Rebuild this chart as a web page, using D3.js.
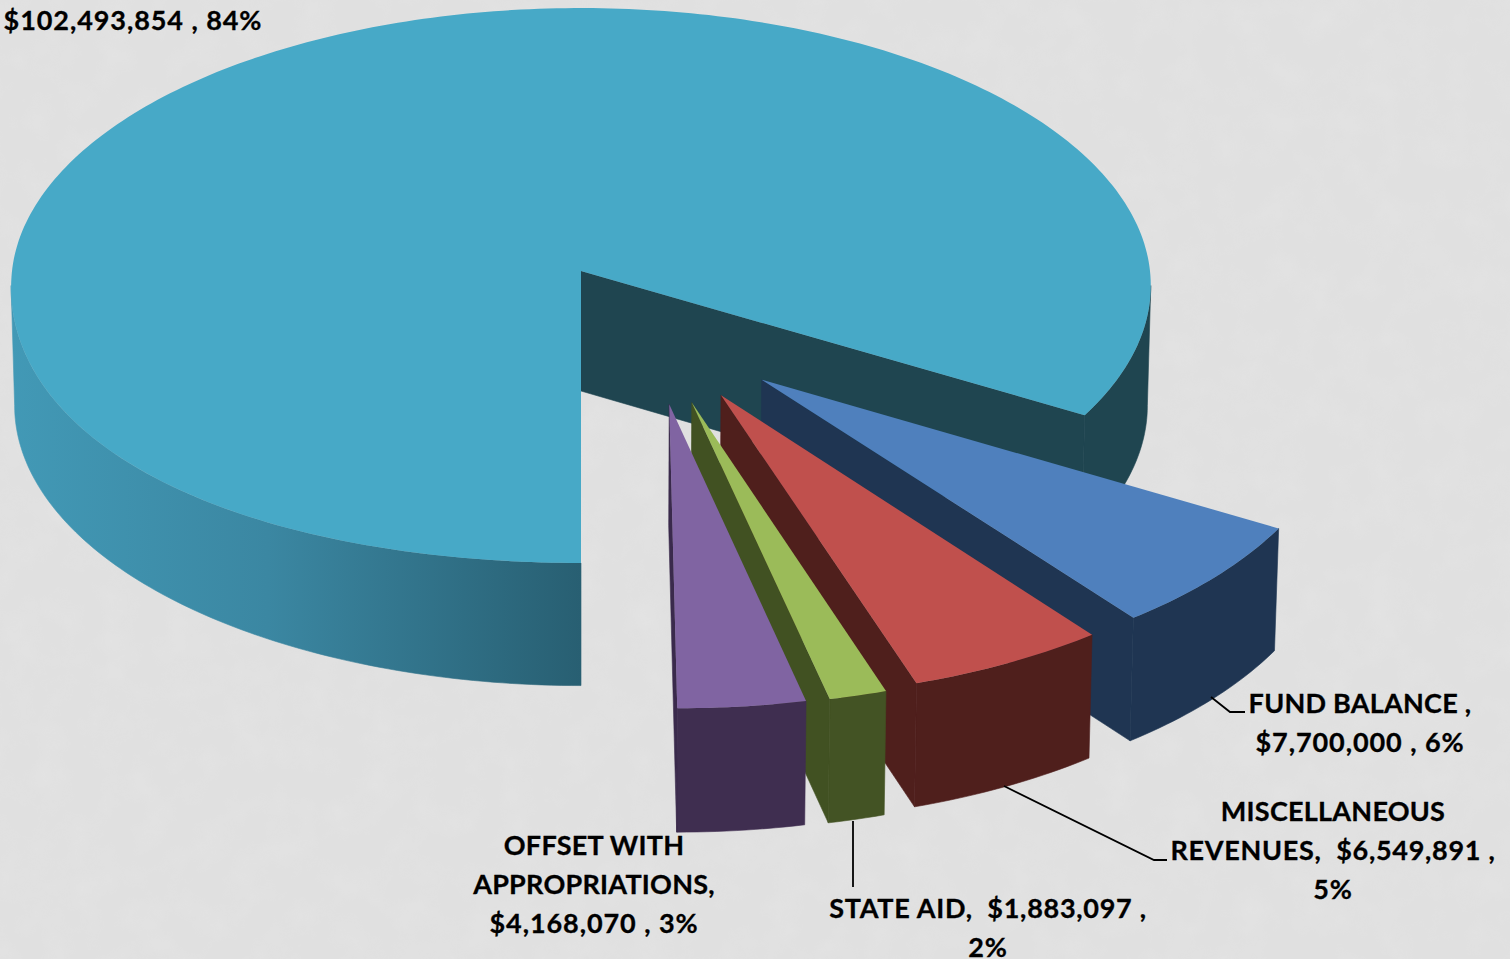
<!DOCTYPE html>
<html>
<head>
    <title>Revenue Pie</title>
    <script src="https://d3js.org/d3.v7.min.js"></script>
    <style>
        html, body { margin: 0; padding: 0; background: #e1e1e1; overflow: hidden; }
        text { font-family: Lato, "Noto Sans", sans-serif; font-weight: 700; fill: #000; stroke: #000; stroke-width: 0.3px; }
    </style>
</head>
<body>
    <div id="chart"></div>
    <script>
    // chart data
    let categories = ["", "FUND BALANCE", "MISCELLANEOUS REVENUES", "STATE AID", "OFFSET WITH APPROPRIATIONS"];
    let values = [102493854, 7700000, 6549891, 1883097, 4168070];
    let percents = ["84%", "6%", "5%", "2%", "3%"];

    let width = 1510,
        height = 959;

    // look of each slice, same order as the data
    let topColors = ["#47a9c7", "#4f80bd", "#c0504d", "#9bbb59", "#8064a2"];
    let wallColors = ["url(#wall0)", "#1f3552", "#4f1f1c", "#435324", "#3f2e50"];
    let faceColors = ["#1f4550", "#1f3552", "#4f1f1c", "#415122", "#3a2a4c"];
    let explodeDist = [0, 0.498, 0.503, 0.503, 0.495];
    let explodeDir = [0, 140.6, 150.8, 157.2, 161.6];
    let sliceRadius = [1, 0.99, 0.99, 0.99, 0.99];
    let tipNudge = [0, -0.005, -0.005, -0.005, -0.005];

    // perspective of the pie plane
    let cx = 581, cy = 271, rx = 569, ry = 276.7, k = 0.0523, depth = 120, shrink = 0.994;
    let frontLeftBulge = 0.018;

    function project(X, Y, low) {
        let d = 1 - k * Y;
        let x = cx + rx * X / d,
            y = cy + ry * Y / d;
        if (low) {
            x = cx + (x - cx) * shrink;
            y = y + depth / Math.pow(d, 0.4);
        }
        return [x, y];
    }

    let svg = d3.select("#chart")
        .append("svg")
        .attr("width", width)
        .attr("height", height);

    let defs = svg.append("defs");

    // faint mottling of the slide background
    let noise = defs.append("filter").attr("id", "noise")
        .attr("x", 0).attr("y", 0).attr("width", "100%").attr("height", "100%");
    noise.append("feTurbulence").attr("type", "fractalNoise").attr("baseFrequency", 0.03).attr("numOctaves", 3).attr("seed", 4);
    noise.append("feColorMatrix").attr("type", "matrix")
        .attr("values", "0 0 0 0 1  0 0 0 0 1  0 0 0 0 1  0.5 0 0 0 -0.2");

    let grad = defs.append("linearGradient").attr("id", "wall0")
        .attr("gradientUnits", "userSpaceOnUse")
        .attr("x1", 10).attr("x2", 582).attr("y1", 0).attr("y2", 0);
    grad.append("stop").attr("offset", "0").attr("stop-color", "#4299b6");
    grad.append("stop").attr("offset", "0.45").attr("stop-color", "#3b87a2");
    grad.append("stop").attr("offset", "0.999").attr("stop-color", "#285f72");
    grad.append("stop").attr("offset", "1").attr("stop-color", "#1f4550");

    svg.append("rect").attr("width", width).attr("height", height).attr("fill", "#e0e0e0");
    svg.append("rect").attr("width", width).attr("height", height).attr("filter", "url(#noise)").attr("opacity", 0.35);

    let pie = d3.pie().sort(null).startAngle(Math.PI).endAngle(3 * Math.PI);
    let arcs = pie(values);

    let line = d3.line();
    let rad = Math.PI / 180;

    // centre the rim of a slice is drawn around, in plane units
    function apex(i) {
        let a = explodeDir[i] * rad;
        return [explodeDist[i] * Math.sin(a), -explodeDist[i] * Math.cos(a)];
    }

    // the drawn tip of the wedge
    function tip(i) {
        let o = apex(i);
        return [o[0] + tipNudge[i], o[1]];
    }

    function rim(i, a, low) {
        let o = apex(i);
        let r = sliceRadius[i];
        // the big slice's top rim is a bit fuller towards the front left
        if (i == 0 && !low && Math.sin(a) < 0 && Math.cos(a) < 0) {
            r = 1 + frontLeftBulge * Math.pow(Math.sin(2 * a), 2);
        }
        return [o[0] + r * Math.sin(a), o[1] - r * Math.cos(a)];
    }

    function samples(a0, a1) {
        let n = Math.ceil((a1 - a0) * 60);
        return d3.range(n + 1).map(j => a0 + (a1 - a0) * j / n);
    }

    function topPath(d, i) {
        let o = tip(i);
        let pts = samples(d.startAngle, d.endAngle).map(a => { let p = rim(i, a); return project(p[0], p[1]); });
        return line([project(o[0], o[1])].concat(pts)) + "Z";
    }

    // only the part of the outer wall facing the viewer, so the silhouette edge stays straight
    function wallPath(d, i) {
        let out = "";
        [0, 360].forEach(function(turn) {
            let a0 = Math.max(d.startAngle, (93 + turn) * rad),
                a1 = Math.min(d.endAngle, (267 + turn) * rad);
            if (a1 <= a0) return;
            let upper = samples(a0, a1).map(a => { let p = rim(i, a); return project(p[0], p[1]); });
            let lower = samples(a0, a1).reverse().map(a => { let p = rim(i, a, true); return project(p[0], p[1], true); });
            out += line(upper.concat(lower)) + "Z";
        });
        return out;
    }

    function facePath(d, i, a) {
        let o = tip(i), p = rim(i, a);
        return line([project(o[0], o[1]), project(p[0], p[1]), project(p[0], p[1], true), project(o[0], o[1], true)]) + "Z";
    }

    // painter's order: big slice first, then the pulled out ones from back to front
    let slices = svg.selectAll("g.slice")
        .data(arcs)
        .enter()
        .append("g")
        .attr("class", "slice");

    slices.append("path").attr("d", (d, i) => wallPath(d, i))
        .attr("fill", (d, i) => wallColors[i]).attr("stroke", (d, i) => wallColors[i]).attr("stroke-width", 0.6);
    slices.append("path").attr("d", (d, i) => facePath(d, i, d.endAngle))
        .attr("fill", (d, i) => faceColors[i]).attr("stroke", (d, i) => faceColors[i]).attr("stroke-width", 0.6);
    slices.append("path").attr("d", (d, i) => topPath(d, i)).attr("fill", (d, i) => topColors[i]);

    // labels
    let money = d3.format("$,");
    let labelLines = [
        [money(values[0]) + " , " + percents[0]],
        [categories[1] + " ,", money(values[1]) + " , " + percents[1]],
        ["MISCELLANEOUS", "REVENUES,  " + money(values[2]) + " ,", percents[2]],
        [categories[3] + ",  " + money(values[3]) + " ,", percents[3]],
        ["OFFSET WITH", "APPROPRIATIONS,", money(values[4]) + " , " + percents[4]]
    ];
    let labelPos = [[133, 30], [1360, 713], [1333, 821], [988, 918], [594, 855]];

    // the original face has wider digits, so lines with numbers get more tracking
    function tracking(s) {
        let digits = /[0-9]/.test(s), letters = /[A-Z]/.test(s);
        if (digits && letters) return 0.72;
        if (digits) return 0.93;
        return 0.25;
    }

    labelLines.forEach(function(lines, i) {
        let t = svg.append("text")
            .attr("text-anchor", "middle")
            .attr("font-size", 27);
        lines.forEach(function(s, j) {
            t.append("tspan")
                .style("white-space", "pre")
                .style("letter-spacing", tracking(s) + "px")
                .attr("x", labelPos[i][0])
                .attr("y", labelPos[i][1] + j * 39)
                .text(s);
        });
    });

    // leader lines
    let leaders = [
        [[1211, 697], [1230, 712], [1245, 712]],
        [[1004, 786], [1154, 860], [1167, 860]],
        [[853, 821], [853, 887]]
    ];
    svg.selectAll("path.leader")
        .data(leaders)
        .enter()
        .append("path")
        .attr("class", "leader")
        .attr("d", d => line(d))
        .attr("fill", "none")
        .attr("stroke", "#000")
        .attr("stroke-width", 1.8);
    </script>
</body>
</html>
